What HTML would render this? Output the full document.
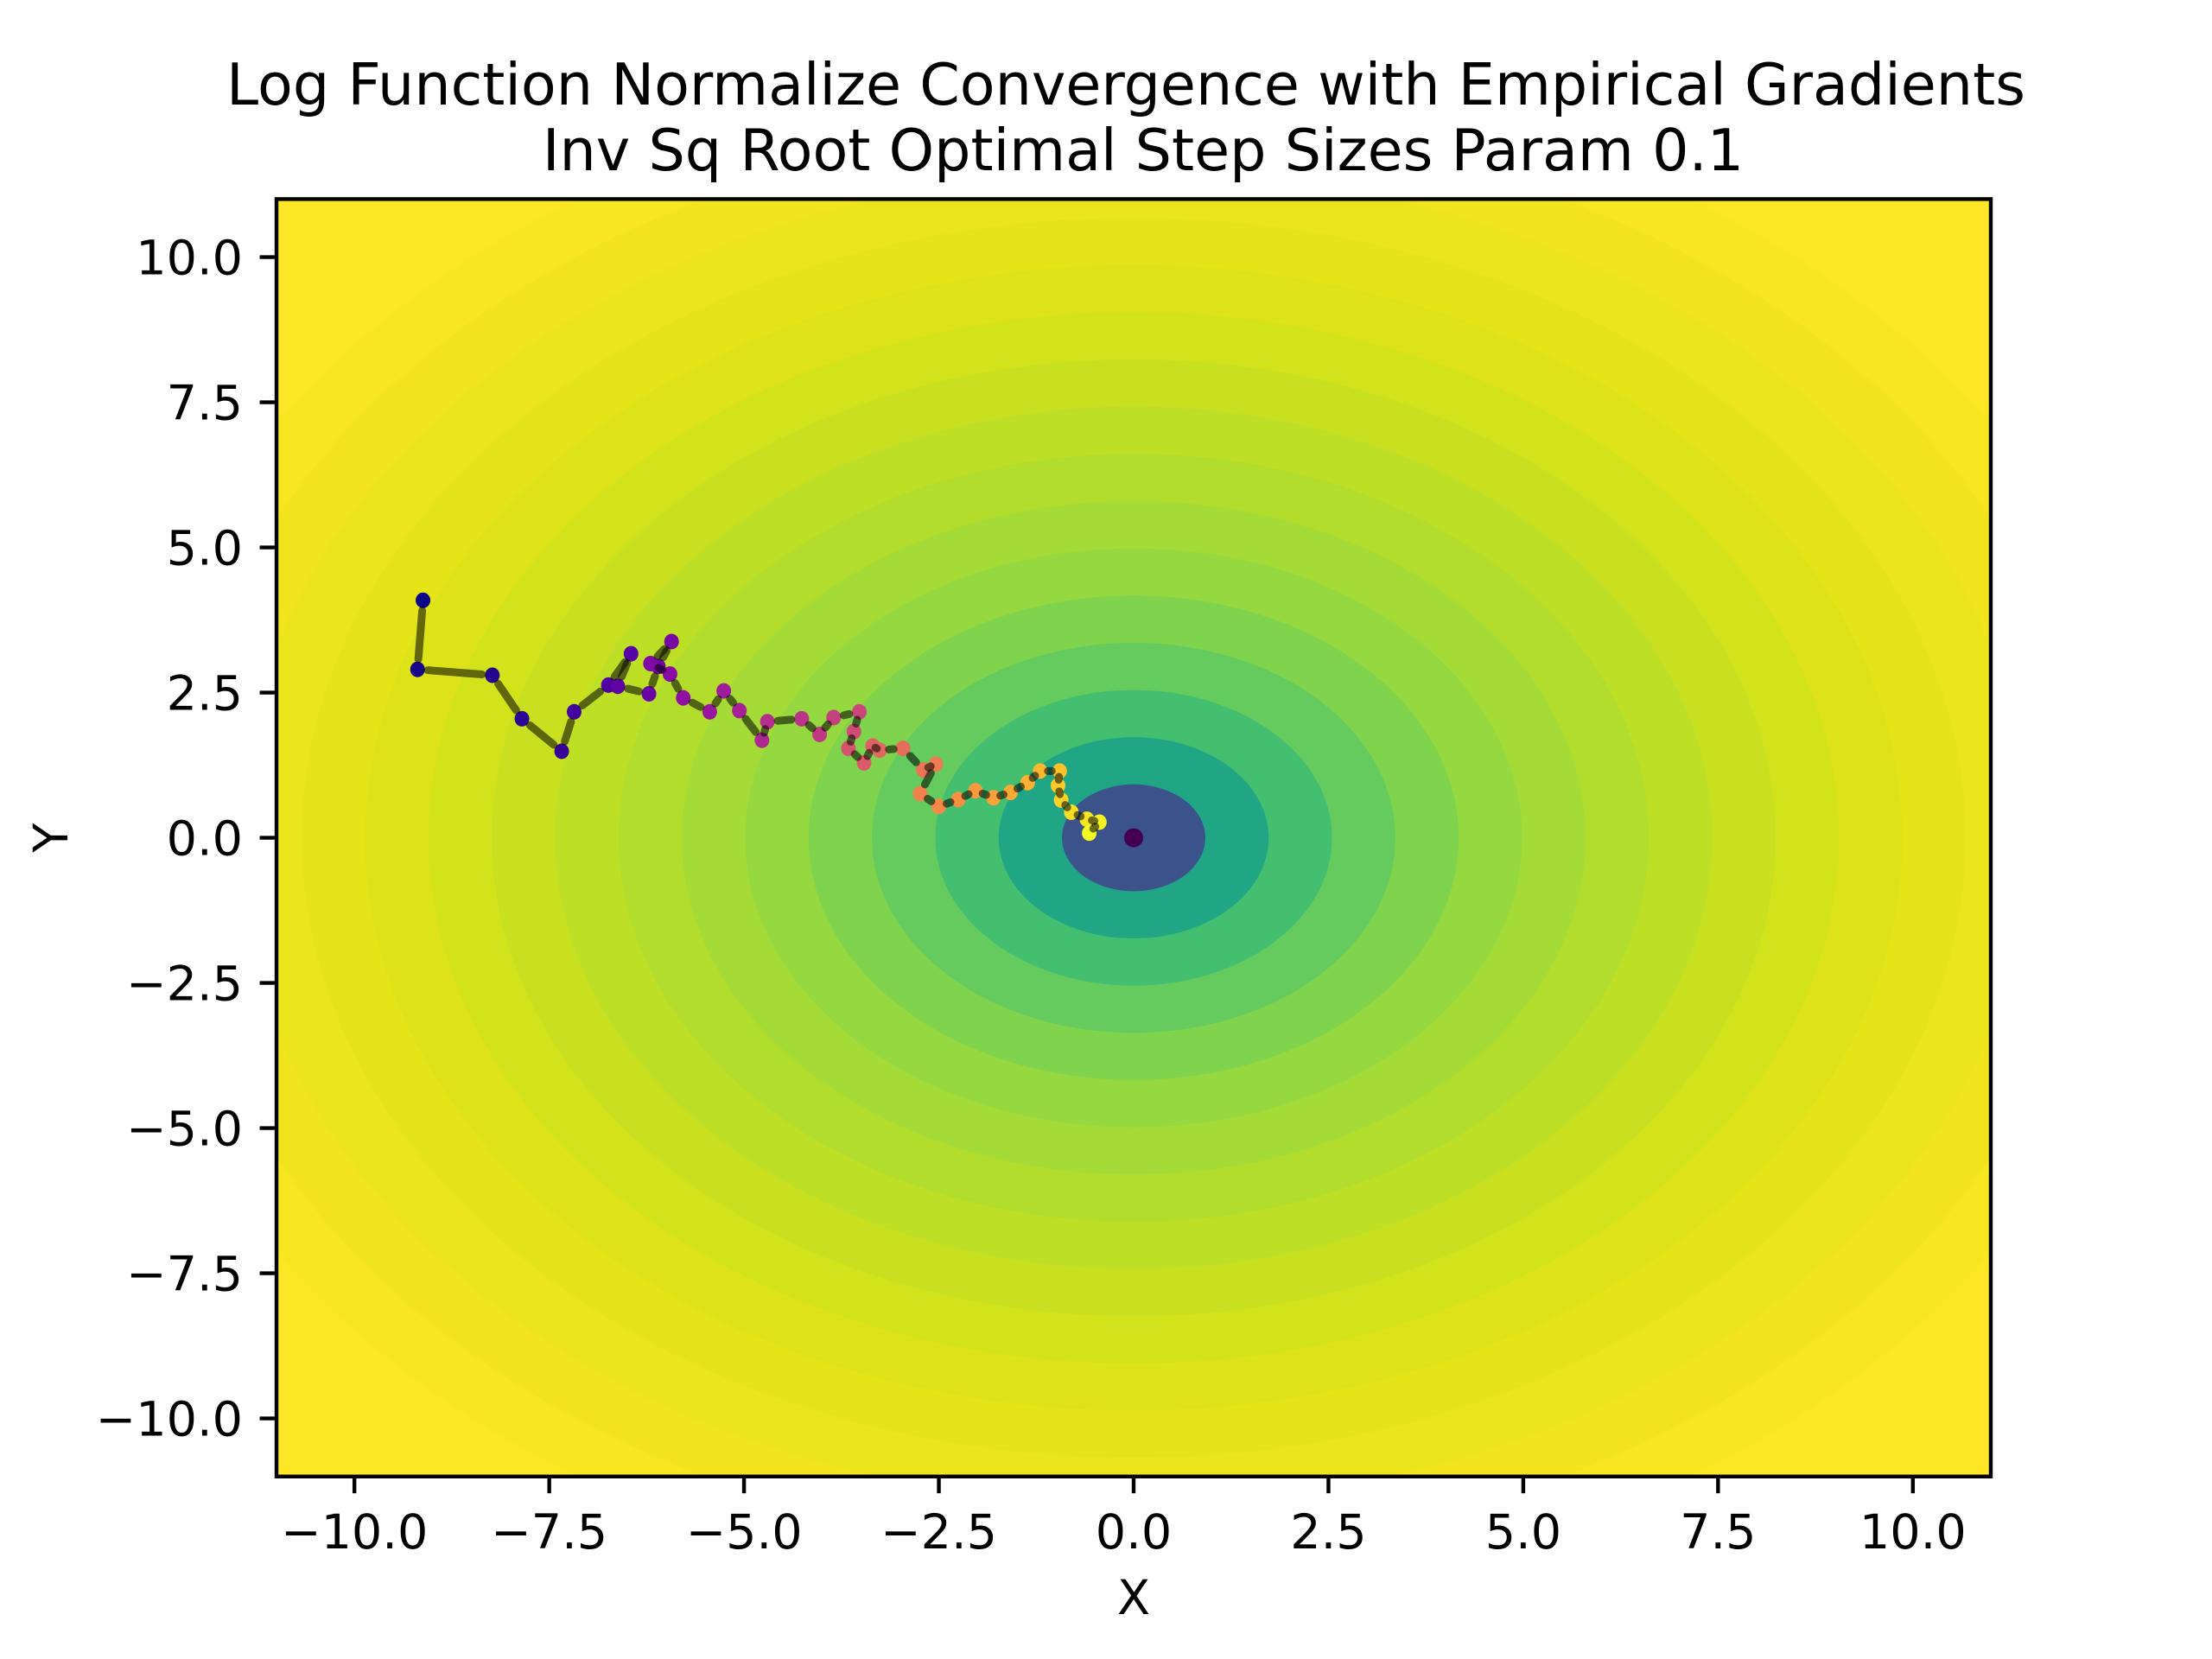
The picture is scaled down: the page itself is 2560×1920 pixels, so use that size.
<!DOCTYPE html>
<html><head><meta charset="utf-8"><style>
html,body{margin:0;padding:0;background:#fff;width:2560px;height:1920px;overflow:hidden;}
svg{display:block;font-family:"DejaVu Sans","Liberation Sans",sans-serif;}
</style></head><body>
<svg id="chart" width="2560" height="1920" viewBox="0 0 2560 1920" xmlns="http://www.w3.org/2000/svg">
<rect width="2560" height="1920" fill="#fff"/>
<text x="1303" y="121" font-size="66.7" text-anchor="middle">Log Function Normalize Convergence with Empirical Gradients</text>
<text x="1323" y="197" font-size="66.7" text-anchor="middle">Inv Sq Root Optimal Step Sizes Param 0.1</text>
<defs><clipPath id="clip"><rect x="320" y="230.4" width="1984" height="1478.4"/></clipPath></defs>
<g id="contours" clip-path="url(#clip)"></g>
<g id="path" clip-path="url(#clip)"></g>
<g id="pts" clip-path="url(#clip)"></g>
<rect x="320" y="230.4" width="1984" height="1478.4" fill="none" stroke="#000" stroke-width="4.4"/>
<g id="axes"></g>
<text x="1312" y="1868" font-size="55.6" text-anchor="middle">X</text>
<text x="0" y="0" font-size="55.6" text-anchor="middle" transform="translate(78,969.6) rotate(-90)">Y</text>
</svg>
<script>
const xTicks=[-10,-7.5,-5,-2.5,0,2.5,5,7.5,10];
const yTicks=[-10,-7.5,-5,-2.5,0,2.5,5,7.5,10];
const tickLabels=["\u221210.0","\u22127.5","\u22125.0","\u22122.5","0.0","2.5","5.0","7.5","10.0"];
const ringColors=['#3b528b','#21a685','#44bf70','#65cb5e','#80d34d','#95d840','#a5db36','#b2dd2d','#bddf26','#c8e020','#d2e21b','#dde318','#e5e419','#ece51b','#f2e51d','#f8e621','#fde725','#fde725','#fde725','#fde725'];
const ringInner=0.92, ringStep=0.813;
const xs=[-9.12,-9.19,-8.23,-7.85,-7.34,-7.18,-6.74,-6.45,-6.62,-6.22,-6.10,-5.93,-6.2,-5.95,-5.78,-5.44,-5.26,-5.06,-4.77,-4.70,-4.26,-4.03,-3.85,-3.52,-3.59,-3.66,-3.46,-3.35,-3.26,-2.96,-2.70,-2.54,-2.74,-2.50,-2.25,-2.03,-1.80,-1.58,-1.36,-1.20,-0.95,-0.97,-0.93,-0.80,-0.60,-0.44,-0.57];
const ys=[4.09,2.90,2.80,2.05,1.49,2.17,2.63,3.17,2.61,2.48,2.95,3.38,3.0,2.82,2.41,2.17,2.53,2.19,1.68,2.0,2.05,1.78,2.07,2.17,1.83,1.54,1.29,1.58,1.51,1.54,1.17,1.27,0.76,0.54,0.66,0.81,0.69,0.78,0.95,1.15,1.15,0.90,0.65,0.44,0.32,0.27,0.08];
const minX=0, minY=0;

const L=320,R=2304,T=230.4,B=1708.8;
const sx=v=>L+(v+11)/22*(R-L);
const sy=v=>B-(v+11)/22*(B-T);
const NS='http://www.w3.org/2000/svg';
function mk(tag,attrs,parent){const e=document.createElementNS(NS,tag);for(const k in attrs)e.setAttribute(k,attrs[k]);parent.appendChild(e);return e;}

const cg=document.getElementById('contours');
const bg=mk('rect',{x:L,y:T,width:R-L,height:B-T,fill:'#fde725'},cg);


for(let k=ringColors.length-1;k>=0;k--){
  const r=ringInner+ringStep*k;
  const e=mk('ellipse',{cx:sx(0),cy:sy(0),rx:sx(r)-sx(0),ry:sy(0)-sy(r),fill:ringColors[k]},cg);
  
  
}
const md=mk('ellipse',{cx:sx(minX),cy:sy(minY),rx:11,ry:11,fill:'#440154'},cg);



const plasma=[[13,8,135],[84,2,163],[139,10,165],[185,50,137],[219,92,104],[244,136,73],[254,188,43],[240,249,33]];
function pc(t){const n=plasma.length-1;const f=t*n;const i=Math.min(n-1,Math.floor(f));const u=f-i;const a=plasma[i],b=plasma[i+1];return `rgb(${Math.round(a[0]+(b[0]-a[0])*u)},${Math.round(a[1]+(b[1]-a[1])*u)},${Math.round(a[2]+(b[2]-a[2])*u)})`;}

const mg=document.getElementById('pts');
const N=xs.length;
for(let i=0;i<N;i++){
  const c=mk('ellipse',{cx:sx(xs[i]),cy:sy(ys[i]),rx:8.5,ry:9,fill:pc(i/(N-1))},mg);
  
  
}
for(let i=0;i<N-1;i++){
  const x1=sx(xs[i]),y1=sy(ys[i]),x2=sx(xs[i+1]),y2=sy(ys[i+1]);
  const d=Math.hypot(x2-x1,y2-y1);const s=Math.min(12,d*0.4);
  const ux=(x2-x1)/d,uy=(y2-y1)/d;
  const l=mk('line',{x1:x1+ux*s,y1:y1+uy*s,x2:x2-ux*s,y2:y2-uy*s,stroke:'rgba(0,0,0,0.55)','stroke-width':9,'stroke-linecap':'round'},mg);
  
  
}

const ag=document.getElementById('axes');
xTicks.forEach((v,i)=>{
  const t=mk('line',{x1:sx(v),x2:sx(v),y1:B,y2:B+19.4,stroke:'#000','stroke-width':4.4},ag);
  
  
  const tx=mk('text',{x:sx(v),y:1792,'font-size':55.6,'text-anchor':'middle'},ag);
  tx.textContent=tickLabels[i];
  
  
});
yTicks.forEach((v,i)=>{
  const t=mk('line',{x1:L-19.4,x2:L,y1:sy(v),y2:sy(v),stroke:'#000','stroke-width':4.4},ag);
  
  
  const tx=mk('text',{x:281,y:sy(v)+20,'font-size':55.6,'text-anchor':'end'},ag);
  tx.textContent=tickLabels[i];
  
  
});
</script>
</body></html>
